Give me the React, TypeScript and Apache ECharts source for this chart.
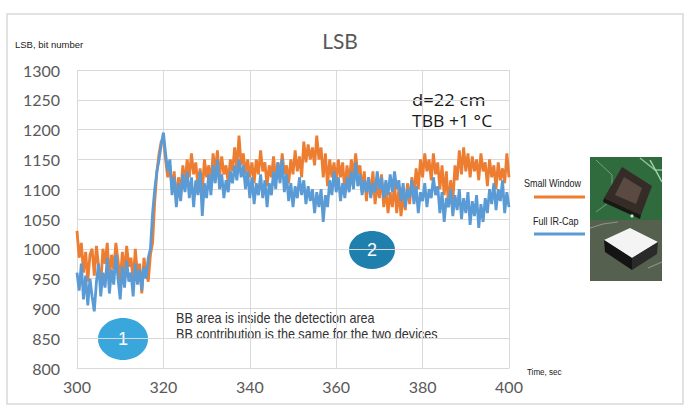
import React, { useEffect, useRef } from "react";
import * as echarts from "echarts";

// Sample grid: one reading every half second from t = 300 s
const T_START = 300;
const T_STEP = 0.5;

const smallWindow = [
  1030, 985, 1010, 960, 995, 945, 990, 1000, 955, 1005, 970, 940, 1000, 975, 1010, 950, 990, 965, 1010, 980,
  945, 995, 960, 1005, 970, 985, 945, 1000, 955, 975, 925, 985, 960, 945, 990, 1010, 1080, 1130, 1160, 1180,
  1185, 1150, 1120, 1140, 1100, 1130, 1080, 1120, 1095, 1140, 1110, 1150, 1120, 1160, 1125, 1145, 1105, 1135, 1095, 1150,
  1120, 1140, 1110, 1160, 1130, 1165, 1120, 1155, 1125, 1140, 1110, 1150, 1130, 1170, 1135, 1190, 1140, 1160, 1125, 1150,
  1120, 1145, 1110, 1150, 1125, 1165, 1130, 1145, 1105, 1140, 1120, 1155, 1115, 1145, 1120, 1160, 1125, 1140, 1110, 1150,
  1125, 1165, 1130, 1155, 1120, 1180, 1145, 1175, 1150, 1170, 1140, 1190, 1150, 1170, 1120, 1160, 1105, 1150, 1120, 1145,
  1110, 1150, 1120, 1145, 1095, 1140, 1110, 1150, 1120, 1160, 1125, 1140, 1095, 1130, 1080, 1120, 1090, 1130, 1075, 1110,
  1085, 1125, 1070, 1100, 1060, 1095, 1070, 1110, 1060, 1100, 1055, 1090, 1065, 1110, 1075, 1120, 1090, 1135, 1100, 1150,
  1120, 1160, 1130, 1150, 1115, 1160, 1125, 1145, 1100, 1140, 1090, 1130, 1070, 1115, 1080, 1140, 1115, 1165, 1125, 1170,
  1130, 1160, 1120, 1155, 1130, 1150, 1115, 1160, 1130, 1145, 1105, 1150, 1120, 1140, 1100, 1145, 1115, 1135, 1110, 1160,
  1120,
];

const fullIrCap = [
  960, 930, 975, 915, 955, 905, 950, 920, 895, 945, 975, 920, 960, 935, 985, 925, 965, 940, 990, 950,
  915, 970, 935, 980, 945, 960, 920, 975, 940, 965, 930, 970, 950, 985, 1000, 1060, 1100, 1130, 1150, 1175,
  1195, 1160, 1130, 1150, 1090, 1120, 1070, 1110, 1080, 1125, 1095, 1130, 1085, 1120, 1070, 1115, 1090, 1130, 1055, 1110,
  1085, 1125, 1090, 1140, 1110, 1150, 1100, 1125, 1085, 1115, 1095, 1130, 1110, 1140, 1115, 1150, 1120, 1140, 1100, 1130,
  1085, 1120, 1075, 1110, 1090, 1125, 1085, 1115, 1070, 1110, 1090, 1130, 1100, 1145, 1110, 1150, 1095, 1125, 1080, 1110,
  1070, 1105, 1085, 1120, 1090, 1115, 1075, 1105, 1080, 1100, 1060, 1095, 1070, 1100, 1045, 1090, 1070, 1115, 1090, 1130,
  1095, 1120, 1080, 1110, 1085, 1120, 1095, 1130, 1100, 1145, 1105, 1125, 1090, 1115, 1095, 1120, 1085, 1110, 1095, 1130,
  1100, 1120, 1085, 1115, 1090, 1125, 1095, 1130, 1100, 1115, 1080, 1110, 1070, 1100, 1085, 1115, 1075, 1105, 1060, 1095,
  1080, 1110, 1070, 1100, 1085, 1120, 1090, 1105, 1060, 1095, 1045, 1085, 1070, 1100, 1055, 1090, 1065, 1100, 1050, 1085,
  1060, 1095, 1040, 1080, 1055, 1090, 1035, 1075, 1045, 1085, 1060, 1100, 1075, 1110, 1065, 1100, 1080, 1115, 1060, 1095,
  1070,
];

const seriesNames = ["Small Window", "Full IR-Cap"];
const seriesColors = ["#ed7d31", "#5b9bd5"];
const xTicks = { min: 300, max: 400, interval: 20 };
const yTicks = { min: 800, max: 1300, interval: 50 };
const noteLines = ["BB area is inside the detection area", "BB contribution is the same for the two devices"];
const conditionLines = ["d=22 cm", "TBB +1 °C"];

const toPairs = (vals: number[]) => vals.map((v, i) => [T_START + i * T_STEP, v]);

export default function App() {
  const ref = useRef<HTMLDivElement>(null);
  useEffect(() => {
    if (!ref.current) return;
    const chart = echarts.init(ref.current, undefined, { renderer: "svg" });
    const grey = "#595959";
    const txt = (x: number, y: number, text: string, size: number, fill: string, sx: number, family = "Liberation Sans", align = "left") => ({
      type: "text",
      x,
      y,
      scaleX: sx,
      style: { text, fill, fontSize: size, fontFamily: family, align, verticalAlign: "middle" },
    });
    chart.setOption({
      animation: false,
      backgroundColor: "#ffffff",
      grid: { left: 77, right: 183, top: 70, bottom: 51 },
      xAxis: {
        type: "value",
        min: xTicks.min,
        max: xTicks.max,
        interval: xTicks.interval,
        axisLine: { show: true, lineStyle: { color: "#d9d9d9", width: 1 } },
        axisTick: { show: false },
        axisLabel: { color: grey, fontSize: 16, fontFamily: "Lato", margin: 10 },
        splitLine: { show: true, lineStyle: { color: "#d9d9d9", width: 1 } },
      },
      yAxis: {
        type: "value",
        min: yTicks.min,
        max: yTicks.max,
        interval: yTicks.interval,
        axisLine: { show: false },
        axisTick: { show: false },
        axisLabel: { color: grey, fontSize: 16, fontFamily: "Lato", margin: 17, formatter: (v: number) => String(v) },
        splitLine: { show: true, lineStyle: { color: "#d9d9d9", width: 1 } },
      },
      series: [
        {
          name: seriesNames[0],
          type: "line",
          data: toPairs(smallWindow),
          showSymbol: false,
          lineStyle: { color: seriesColors[0], width: 2.8 },
          z: 2,
        },
        {
          name: seriesNames[1],
          type: "line",
          data: toPairs(fullIrCap),
          showSymbol: false,
          lineStyle: { color: seriesColors[1], width: 2.8 },
          z: 3,
        },
      ],
      graphic: [
        {
          type: "rect",
          shape: { x: 7, y: 14, width: 676, height: 390 },
          style: { fill: "none", stroke: "#d9d9d9", lineWidth: 1.5 },
          z: 0,
        },
        txt(340, 40, "LSB", 21, grey, 1, "Lato", "center"),
        txt(15, 44, "LSB, bit number", 9.5, "#222", 1),
        txt(527, 372, "Time, sec", 9.5, "#222", 0.85),
        txt(412, 100, conditionLines[0], 16, "#1a1a1a", 1.15, "Open Sans"),
        txt(412, 121, conditionLines[1], 16, "#1a1a1a", 1.1, "Open Sans"),
        {
          type: "ellipse",
          shape: { cx: 123, cy: 339, rx: 25, ry: 21 },
          style: { fill: "#3aa7dc" },
        },
        txt(123, 339, "1", 18, "#ffffff", 1, "Liberation Sans", "center"),
        {
          type: "ellipse",
          shape: { cx: 372, cy: 250, rx: 23, ry: 19 },
          style: { fill: "#1f7fad" },
        },
        txt(372, 250, "2", 18, "#ffffff", 1, "Liberation Sans", "center"),
        txt(176, 318, noteLines[0], 14, "#333", 0.9),
        txt(176, 334, noteLines[1], 14, "#333", 0.9),
        // legend
        txt(524, 183, seriesNames[0], 10.5, "#222", 0.86),
        {
          type: "line",
          shape: { x1: 534, y1: 197, x2: 585, y2: 197 },
          style: { stroke: seriesColors[0], lineWidth: 3 },
        },
        txt(533, 221, seriesNames[1], 10.5, "#222", 0.86),
        {
          type: "line",
          shape: { x1: 534, y1: 234, x2: 585, y2: 234 },
          style: { stroke: seriesColors[1], lineWidth: 3 },
        },
        // device photo sketches
        {
          type: "group",
          children: [
            { type: "rect", shape: { x: 590, y: 157, width: 72, height: 63 }, style: { fill: "#2f6b3c" } },
            { type: "polyline", shape: { points: [[596, 160], [612, 175], [612, 200], [596, 212]] }, style: { stroke: "#6fa57a", fill: "none", lineWidth: 1 } },
            { type: "polyline", shape: { points: [[640, 158], [655, 170], [662, 170]] }, style: { stroke: "#8fc09a", fill: "none", lineWidth: 1.5 } },
            { type: "polyline", shape: { points: [[650, 160], [662, 182]] }, style: { stroke: "#a9d4b0", fill: "none", lineWidth: 1.5 } },
            { type: "polygon", shape: { points: [[622, 167], [652, 186], [641, 215], [604, 198]] }, style: { fill: "#352c28" } },
            { type: "polygon", shape: { points: [[624, 177], [642, 188], [636, 204], [615, 195]] }, style: { fill: "#5b4a42" } },
            { type: "polygon", shape: { points: [[604, 198], [641, 215], [640, 219], [603, 202]] }, style: { fill: "#1b1714" } },
            { type: "circle", shape: { cx: 632, cy: 216, r: 1.6 }, style: { fill: "#cde8d0" } },
            { type: "rect", shape: { x: 590, y: 220, width: 72, height: 61 }, style: { fill: "#55604f" } },
            { type: "polyline", shape: { points: [[590, 228], [603, 224], [618, 222]] }, style: { stroke: "#8a9685", fill: "none", lineWidth: 1.2 } },
            { type: "polyline", shape: { points: [[648, 268], [662, 262]] }, style: { stroke: "#8a9685", fill: "none", lineWidth: 1.2 } },
            { type: "polygon", shape: { points: [[604, 240], [630, 228], [658, 242], [632, 258]] }, style: { fill: "#f4f4f4" } },
            { type: "polygon", shape: { points: [[604, 240], [632, 258], [632, 270], [605, 252]] }, style: { fill: "#141414" } },
            { type: "polygon", shape: { points: [[632, 258], [658, 242], [657, 254], [632, 270]] }, style: { fill: "#2a2a2a" } },
          ],
        },
      ],
    });
    return () => chart.dispose();
  }, []);
  return (
    <div
      ref={ref}
      style={{ position: "fixed", left: 0, top: 0, width: 692, height: 419 }}
    />
  );
}
